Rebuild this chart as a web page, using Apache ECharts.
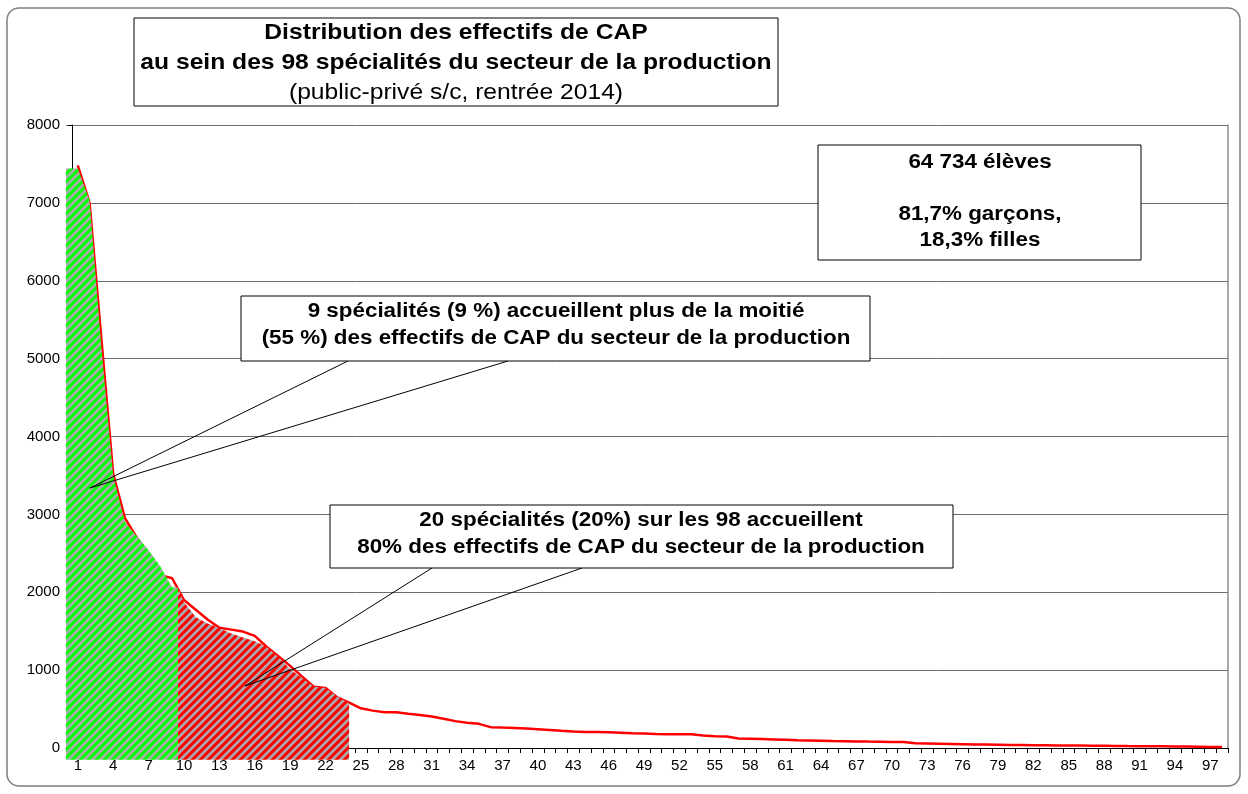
<!DOCTYPE html>
<html>
<head>
<meta charset="utf-8">
<title>Distribution des effectifs de CAP</title>
<script src="https://cdn.jsdelivr.net/npm/echarts@6/dist/echarts.min.js"></script>
<style>
  html, body { margin: 0; padding: 0; background: #fff; }
  #chart { width: 1248px; height: 794px; }
</style>
</head>
<body>
<div id="chart"></div>
<script>
// effectifs de CAP par spécialité, triés du plus grand au plus petit (courbe rouge)
const effectifs = [
  7480, 7000, 5250, 3520, 2950, 2700, 2500, 2220, 2180, 1900,
  1775, 1650, 1545, 1520, 1495, 1440, 1300, 1180, 1055, 920,
  787, 772, 650, 582, 510, 480, 460, 458, 440, 425,
  405, 375, 345, 325, 310, 268, 262, 258, 250, 240,
  230, 220, 212, 207, 205, 202, 195, 188, 185, 180,
  177, 176, 176, 160, 150, 148, 122, 120, 115, 110,
  105, 100, 97, 94, 90, 88, 85, 82, 80, 78,
  76, 60, 58, 55, 52, 49, 46, 44, 42, 40,
  38, 36, 35, 33, 32, 31, 29, 28, 27, 25,
  24, 22, 21, 19, 18, 16, 14, 12
]
// aires hachurées : les 9 premières spécialités (vert) puis les suivantes (rouge)
const aireVert = [7440, 7030, 5150, 3500, 2900, 2720, 2540, 2330, 2060]
const aireRouge = [1870, 1680, 1600, 1540, 1470, 1420, 1370, 1300, 1170, 1010, 900, 790, 770, 660, 570]
const nCat = effectifs.length
const labelPas = 3
const yMax = 8000
const yStep = 1000

const font = '"Liberation Sans", Arial, sans-serif'

// axe des abscisses en demi-pas : étiquettes au centre des catégories, graduations entre elles
const demiPas = Array.from({ length: 2 * nCat + 2 }, (_, j) => (j % 2 === 0 ? String(j / 2) : ''))

// motif hachuré : fond gris + rayures obliques
function hachures(couleur) {
  const c = document.createElement('canvas')
  c.width = 8
  c.height = 8
  const g = c.getContext('2d')
  g.fillStyle = '#a9a9a9'
  g.fillRect(0, 0, 8, 8)
  g.strokeStyle = couleur
  g.lineWidth = 3
  g.beginPath()
  g.moveTo(-4, 4); g.lineTo(4, -4)
  g.moveTo(-2, 10); g.lineTo(10, -2)
  g.moveTo(4, 12); g.lineTo(12, 4)
  g.stroke()
  return { image: c, repeat: 'repeat' }
}

const n9 = aireVert.length
const dataVert = [[0, aireVert[0]]]
  .concat(aireVert.map((v, i) => [i + 1, v]))
  .concat([[n9 + 0.5, aireVert[n9 - 1]]])
const dataRouge = [[n9 + 0.5, aireVert[n9 - 1]]]
  .concat(aireRouge.map((v, i) => [n9 + i + 1, v]))
const dataLigne = effectifs.map((v, i) => [i + 1, v])

function boite(x, y, w, h, lignes, cx, y0, pas, taille) {
  const els = [{
    type: 'rect', z: 100,
    shape: { x: x, y: y, width: w, height: h },
    style: { fill: '#fff', stroke: '#000', lineWidth: 1 }
  }]
  lignes.forEach((l, i) => {
    if (!l.t) return
    els.push({
      type: 'text', z: 101, x: cx, y: y0 + i * pas, scaleX: 1.12,
      style: {
        text: l.t, fill: '#000', align: 'center', verticalAlign: 'middle',
        font: (l.bold === false ? '' : 'bold ') + (l.size || taille) + 'px ' + font
      }
    })
  })
  return els
}

const chart = echarts.init(document.getElementById('chart'))

chart.setOption({
  animation: false,
  backgroundColor: '#fff',
  grid: { left: 66, right: 20, top: 125, bottom: 46 },
  xAxis: [
    {
      type: 'category',
      data: demiPas,
      boundaryGap: false,
      axisLine: { lineStyle: { color: '#000', width: 1 } },
      axisTick: { interval: j => j % 2 === 1, length: 5, lineStyle: { color: '#000' } },
      axisLabel: {
        interval: j => j % 2 === 0 && j / 2 >= 1 && j / 2 <= nCat && (j / 2 - 1) % labelPas === 0,
        color: '#000', fontSize: 15, fontFamily: font, margin: 10
      },
      splitLine: { show: false }
    },
    { type: 'value', min: 0, max: nCat + 0.5, show: false }
  ],
  yAxis: [
    {
      type: 'value', min: 0, max: yMax, interval: yStep, offset: -6,
      axisLine: { show: true, lineStyle: { color: '#000', width: 1 } },
      axisTick: { show: true, length: 4, lineStyle: { color: '#000' } },
      axisLabel: { color: '#000', fontSize: 15, fontFamily: font, margin: 12, formatter: v => String(v) },
      splitLine: { lineStyle: { color: '#6e6e6e', width: 1 } }
    },
    {
      type: 'value', min: 0, max: yMax, position: 'right',
      axisLine: { show: true, lineStyle: { color: '#8c8c8c', width: 1.5 } },
      axisTick: { show: false }, axisLabel: { show: false }, splitLine: { show: false }
    }
  ],
  series: [
    {
      type: 'line', xAxisIndex: 1, data: dataLigne, z: 2,
      showSymbol: false, symbol: 'none',
      lineStyle: { color: '#ff0000', width: 2.5 }
    },
    {
      type: 'line', xAxisIndex: 1, data: dataVert, z: 3, clip: false,
      showSymbol: false, symbol: 'none',
      lineStyle: { width: 0 },
      areaStyle: { color: hachures('#00ff00'), opacity: 1, origin: -150 }
    },
    {
      type: 'line', xAxisIndex: 1, data: dataRouge, z: 3, clip: false,
      showSymbol: false, symbol: 'none',
      lineStyle: { width: 0 },
      areaStyle: { color: hachures('#ff0000'), opacity: 1, origin: -150 }
    }
  ],
  graphic: { elements: [
    {
      type: 'rect', z: 100,
      shape: { x: 7, y: 8, width: 1233, height: 778, r: 12 },
      style: { fill: null, stroke: '#7f7f7f', lineWidth: 1.5 }
    },
    ...boite(134, 18, 644, 88, [
      { t: 'Distribution des effectifs de CAP' },
      { t: 'au sein des 98 spécialités du secteur de la production' },
      { t: '(public-privé s/c, rentrée 2014)', bold: false }
    ], 456, 33, 30, 22),
    ...boite(818, 145, 323, 115, [
      { t: '64 734 élèves' }, { t: '' },
      { t: '81,7% garçons,' }, { t: '18,3% filles' }
    ], 980, 162, 26, 20),
    ...boite(241, 296, 629, 65, [
      { t: '9 spécialités (9 %) accueillent plus de la moitié' },
      { t: '(55 %) des effectifs de CAP du secteur de la production' }
    ], 556, 311, 27, 20),
    ...boite(330, 505, 623, 63, [
      { t: '20 spécialités (20%) sur les 98 accueillent' },
      { t: '80% des effectifs de CAP du secteur de la production' }
    ], 641, 520, 27, 20),
    {
      type: 'polyline', z: 99,
      shape: { points: [[348, 361], [90, 488], [508, 361]] },
      style: { fill: null, stroke: '#000', lineWidth: 1 }
    },
    {
      type: 'polyline', z: 99,
      shape: { points: [[432, 568], [245, 686], [582, 568]] },
      style: { fill: null, stroke: '#000', lineWidth: 1 }
    }
  ] }
})
</script>
</body>
</html>
